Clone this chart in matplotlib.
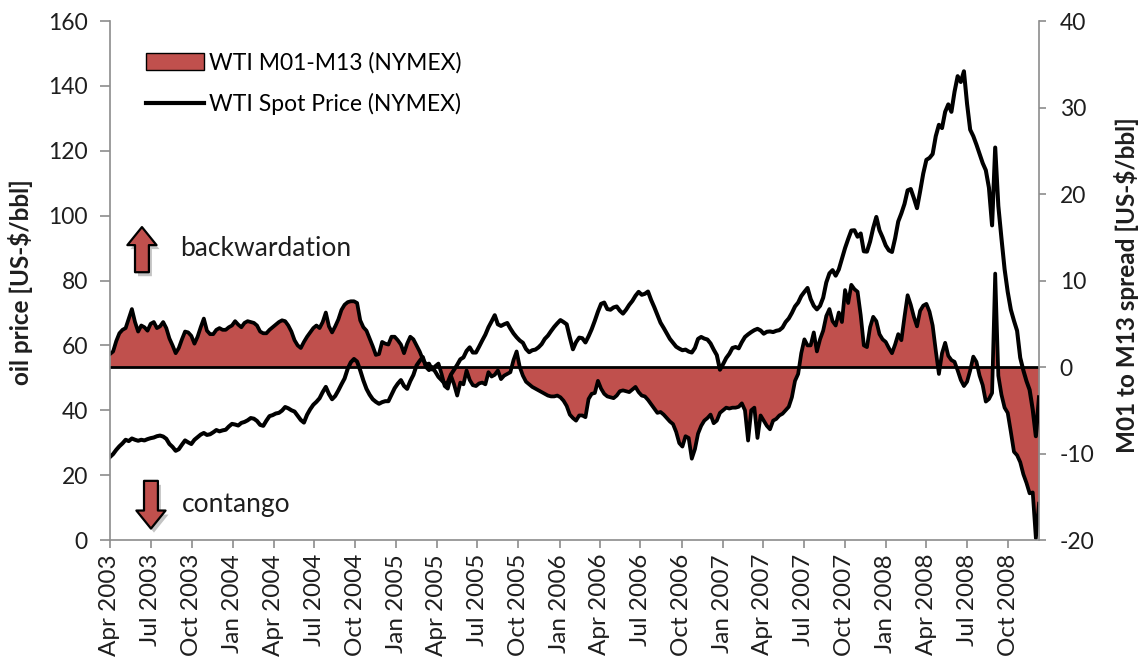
import matplotlib
matplotlib.use('Agg')
import matplotlib.pyplot as plt
import matplotlib.dates as mdates
import matplotlib.transforms as mtransforms
import pandas as pd
from matplotlib.patches import Patch, FancyArrowPatch, ArrowStyle
from matplotlib.lines import Line2D

plt.rcParams['font.family'] = ['Lato', 'DejaVu Sans']
plt.rcParams['axes.unicode_minus'] = False

# weekly observations starting April 2003
start_date = '2003-04-01'

price = [25.6, 26.5, 27.8, 28.9, 29.8, 30.9, 30.5, 31.3, 30.9, 30.6,
         30.9, 30.7, 31.1, 31.4, 31.6, 32.0, 32.2, 31.9, 31.2, 29.6,
         28.7, 27.5, 28.0, 29.4, 30.7, 30.1, 29.6, 30.9, 31.7, 32.5,
         33.0, 32.4, 32.6, 33.2, 33.9, 33.5, 33.8, 34.0, 35.0, 35.8,
         35.6, 35.3, 36.1, 36.4, 36.9, 37.6, 37.4, 36.7, 35.5, 35.2,
         36.8, 38.2, 38.5, 39.0, 39.2, 39.9, 41.0, 40.6, 40.0, 39.6,
         38.3, 37.0, 36.2, 38.6, 40.3, 41.7, 42.6, 43.7, 45.6, 47.2,
         45.0, 43.4, 44.4, 46.1, 48.0, 49.8, 52.8, 54.8, 55.8, 55.0,
         52.3, 49.2, 46.6, 44.8, 43.4, 42.6, 42.0, 42.5, 42.8, 42.8,
         44.8, 46.8, 48.2, 49.3, 47.5, 46.6, 49.0, 50.9, 53.8, 55.2,
         56.4, 53.4, 52.4, 53.3, 51.9, 50.3, 49.3, 48.2, 48.6, 51.0,
         52.5, 54.0, 55.7, 56.3, 58.3, 59.4, 57.8, 57.8, 59.6, 61.5,
         63.3, 65.6, 67.4, 69.3, 66.5, 66.0, 66.5, 66.9, 65.2, 63.7,
         62.5, 61.5, 60.8, 58.9, 57.9, 58.5, 58.7, 59.4, 60.4, 62.0,
         63.0, 64.4, 65.7, 66.8, 67.8, 67.2, 66.5, 62.5, 58.8, 61.0,
         62.4, 62.2, 60.9, 62.8, 65.0, 67.6, 70.4, 72.8, 73.2, 71.2,
         71.0, 71.7, 72.0, 70.7, 69.8, 71.0, 72.5, 73.7, 75.3, 76.5,
         75.6, 75.9, 76.6, 74.0, 71.8, 69.4, 67.0, 65.4, 63.7, 62.0,
         60.8, 59.6, 59.0, 58.5, 58.7, 58.1, 57.8, 59.2, 62.0, 62.6,
         62.1, 61.8, 60.6, 58.7, 57.0, 52.5, 54.2, 56.1, 57.4, 59.2,
         59.5, 59.1, 61.0, 62.6, 63.4, 64.1, 64.7, 65.1, 64.6, 63.6,
         64.2, 64.3, 64.1, 64.5, 64.7, 65.5, 67.2, 68.3, 70.0, 72.0,
         73.2, 75.2, 76.5, 77.7, 74.3, 72.2, 71.1, 72.2, 74.7, 79.4,
         82.2, 83.2, 81.5, 83.4, 86.7, 90.0, 92.8, 95.4, 95.5, 93.5,
         94.5, 89.0, 88.9, 92.0, 96.2, 99.6, 95.5, 93.3, 90.8, 89.3,
         88.8, 93.0, 98.2, 100.7, 103.6, 107.8, 108.2, 105.4, 102.3, 107.5,
         113.0, 117.2, 117.8, 119.0, 124.5, 128.0, 127.0, 132.0, 134.3, 132.0,
         138.2, 143.0, 141.2, 144.5, 134.5, 126.5, 124.5, 121.9, 119.0, 116.2,
         114.0, 108.6, 97.0, 121.0, 103.0, 93.0, 83.5, 76.5, 71.0, 67.6,
         64.5, 56.2, 52.3, 49.0, 46.3, 40.2, 32.0, 44.0]

spread = [1.5, 1.8, 3.0, 3.9, 4.3, 4.5, 5.6, 6.7, 5.2, 4.1,
          4.8, 4.6, 4.2, 5.0, 5.2, 4.5, 4.7, 5.2, 4.5, 3.3,
          2.5, 1.6, 2.2, 3.2, 4.1, 4.0, 3.6, 2.7, 3.5, 4.6,
          5.6, 4.2, 3.8, 3.8, 4.3, 4.5, 4.3, 4.3, 4.6, 4.8,
          5.3, 4.9, 4.6, 5.1, 5.3, 5.2, 5.1, 4.8, 4.1, 3.9,
          3.9, 4.3, 4.6, 4.9, 5.2, 5.4, 5.3, 4.8, 4.1, 3.1,
          2.5, 2.2, 2.9, 3.5, 4.0, 4.5, 4.8, 4.5, 5.2, 6.3,
          4.7, 4.0, 4.7, 5.5, 6.6, 7.2, 7.5, 7.6, 7.6, 7.4,
          5.4, 4.6, 4.2, 3.3, 2.4, 1.4, 1.5, 2.9, 2.7, 2.6,
          3.5, 3.5, 3.1, 2.6, 1.6, 2.7, 3.5, 3.2, 2.5, 1.8,
          0.9, 0.3, 0.4, -0.3, 0.1, 0.4, -0.8, -2.2, -2.5, -1.0,
          -2.0, -3.3, -1.8, -2.0, -0.4, -1.5, -2.1, -2.2, -1.9, -1.8,
          -2.0, -0.6, -1.1, -0.9, -0.4, -1.4, -1.0, -0.8, -0.6, 0.8,
          1.8, 0.0, -1.0, -1.7, -2.0, -2.3, -2.5, -2.7, -2.9, -3.1,
          -3.3, -3.4, -3.4, -3.3, -3.5, -3.9, -4.5, -5.5, -5.9, -6.2,
          -5.6, -5.6, -5.8, -3.7, -3.1, -3.0, -1.6, -2.5, -3.1, -3.4,
          -3.5, -3.6, -3.3, -2.8, -2.7, -2.8, -2.9, -2.6, -2.3, -2.9,
          -3.3, -3.4, -3.8, -4.3, -4.8, -5.3, -5.2, -5.5, -5.9, -6.3,
          -6.6, -7.5, -8.8, -9.2, -8.0, -8.2, -10.6, -9.5, -7.7, -6.8,
          -6.2, -5.9, -5.5, -6.5, -6.2, -5.3, -5.0, -4.7, -4.8, -4.7,
          -4.7, -4.6, -4.2, -5.0, -8.5, -5.0, -4.7, -8.2, -5.6, -6.2,
          -6.8, -7.2, -6.2, -6.0, -5.6, -5.4, -5.0, -4.6, -3.5, -1.6,
          -0.8, 1.6, 3.2, 2.5, 2.5, 4.0, 1.8, 3.2, 4.2, 5.9,
          6.7, 5.3, 4.8, 6.3, 5.2, 8.9, 7.4, 9.5, 9.0, 8.7,
          6.0, 2.5, 2.3, 4.6, 5.8, 5.3, 3.8, 3.2, 2.9, 2.2,
          1.6, 2.6, 3.8, 3.1, 5.8, 8.3, 7.2, 5.8, 4.7, 6.5,
          7.1, 7.3, 6.4, 4.8, 1.9, -0.8, 1.6, 2.8, 1.3, 0.8,
          0.6, -0.4, -1.5, -2.2, -1.7, -0.4, 1.2, 0.6, -1.0, -2.1,
          -4.0, -3.7, -3.0, 10.8, -1.0, -3.2, -4.7, -5.3, -7.5, -9.8,
          -10.2, -11.0, -12.4, -13.4, -14.6, -14.5, -19.8, -15.8]

series_labels = ['WTI M01-M13 (NYMEX)', 'WTI Spot Price (NYMEX)']
left_label = 'oil price [US-$/bbl]'
right_label = 'M01 to M13 spread [US-$/bbl]'

dates = pd.date_range(start_date, periods=len(price), freq='7D')

RED = '#C0504D'
GRAY = '#8C8C8C'
TXT = '#1e1e1e'

fig = plt.figure(figsize=(11.41, 6.63), dpi=100)
ax = fig.add_axes([0.0964, 0.1855, 0.8142, 0.7828])
ax2 = ax.twinx()
ax.set_zorder(ax2.get_zorder() + 1)
ax.patch.set_visible(False)

# spread (right axis)
ax2.fill_between(dates, spread, 0, color=RED, lw=0)
ax2.plot(dates, spread, color='black', lw=2.7, solid_joinstyle='round')
ax2.axhline(0, color='black', lw=2)
ax2.set_ylim(-20, 40)
ax2.set_yticks(range(-20, 41, 10))

# spot price (left axis)
ax.plot(dates, price, color='black', lw=2.9, solid_joinstyle='round')
ax.set_ylim(0, 160)
ax.set_yticks(range(0, 161, 20))
ax.set_xlim(dates[0], dates[-1])

ax.xaxis.set_major_locator(mdates.MonthLocator(bymonth=[1, 4, 7, 10]))
ax.xaxis.set_major_formatter(mdates.DateFormatter('%b %Y'))
for lab in ax.get_xticklabels():
    lab.set_rotation(90)

for a in (ax, ax2):
    for s in a.spines.values():
        s.set_color(GRAY)
        s.set_linewidth(1.2)
    a.spines['top'].set_visible(False)
ax.spines['right'].set_visible(False)
ax2.spines['left'].set_visible(False)
ax2.spines['bottom'].set_visible(False)

ax.tick_params(axis='y', direction='out', length=7, width=1.2, color=GRAY,
               labelsize=16.5, labelcolor=TXT, pad=9)
ax.tick_params(axis='x', direction='out', length=6, width=1.2, color=GRAY,
               labelsize=17.5, labelcolor=TXT, pad=4)
ax2.tick_params(axis='y', direction='out', length=5, width=1.2, color=GRAY,
                labelsize=16.5, labelcolor=TXT, pad=10)

ax.set_ylabel(left_label, fontsize=17.5, fontweight='bold', color=TXT)
ax.yaxis.set_label_coords(-0.0829, 0.497)
ax2.set_ylabel(right_label, fontsize=17.5, fontweight='bold', color=TXT)
ax2.yaxis.set_label_coords(1.0805, 0.492)

handles = [Patch(facecolor=RED, edgecolor='black', linewidth=1),
           Line2D([0], [0], color='black', lw=3)]
ax.legend(handles, series_labels, loc='upper left', bbox_to_anchor=(0.0385, 0.940),
          frameon=False, fontsize=16.5, handlelength=2.55, handleheight=0.8,
          labelspacing=0.85, handletextpad=0.2, borderaxespad=0, borderpad=0)

# backwardation / contango arrows
def block_arrow(p0, p1):
    style = ArrowStyle('Simple', head_length=13, head_width=21, tail_width=10)
    shadow_tr = mtransforms.offset_copy(ax.transAxes, fig=fig, x=3, y=-4, units='dots')
    sh = FancyArrowPatch(p0, p1, transform=shadow_tr, arrowstyle=style, mutation_scale=1,
                         fc='#555555', ec='none', alpha=0.35, shrinkA=0, shrinkB=0, zorder=4)
    ar = FancyArrowPatch(p0, p1, transform=ax.transAxes, arrowstyle=style, mutation_scale=1,
                         fc=RED, ec='black', lw=1.6, shrinkA=0, shrinkB=0, zorder=5)
    ax.add_patch(sh)
    ax.add_patch(ar)

block_arrow((0.0344, 0.516), (0.0344, 0.603))
block_arrow((0.0441, 0.114), (0.0441, 0.022))
ax.text(0.0753, 0.5626, 'backwardation', transform=ax.transAxes, fontsize=19,
        color=TXT, va='center', ha='left')
ax.text(0.0775, 0.068, 'contango', transform=ax.transAxes, fontsize=19,
        color=TXT, va='center', ha='left')

fig.savefig('out.png', dpi=100)
